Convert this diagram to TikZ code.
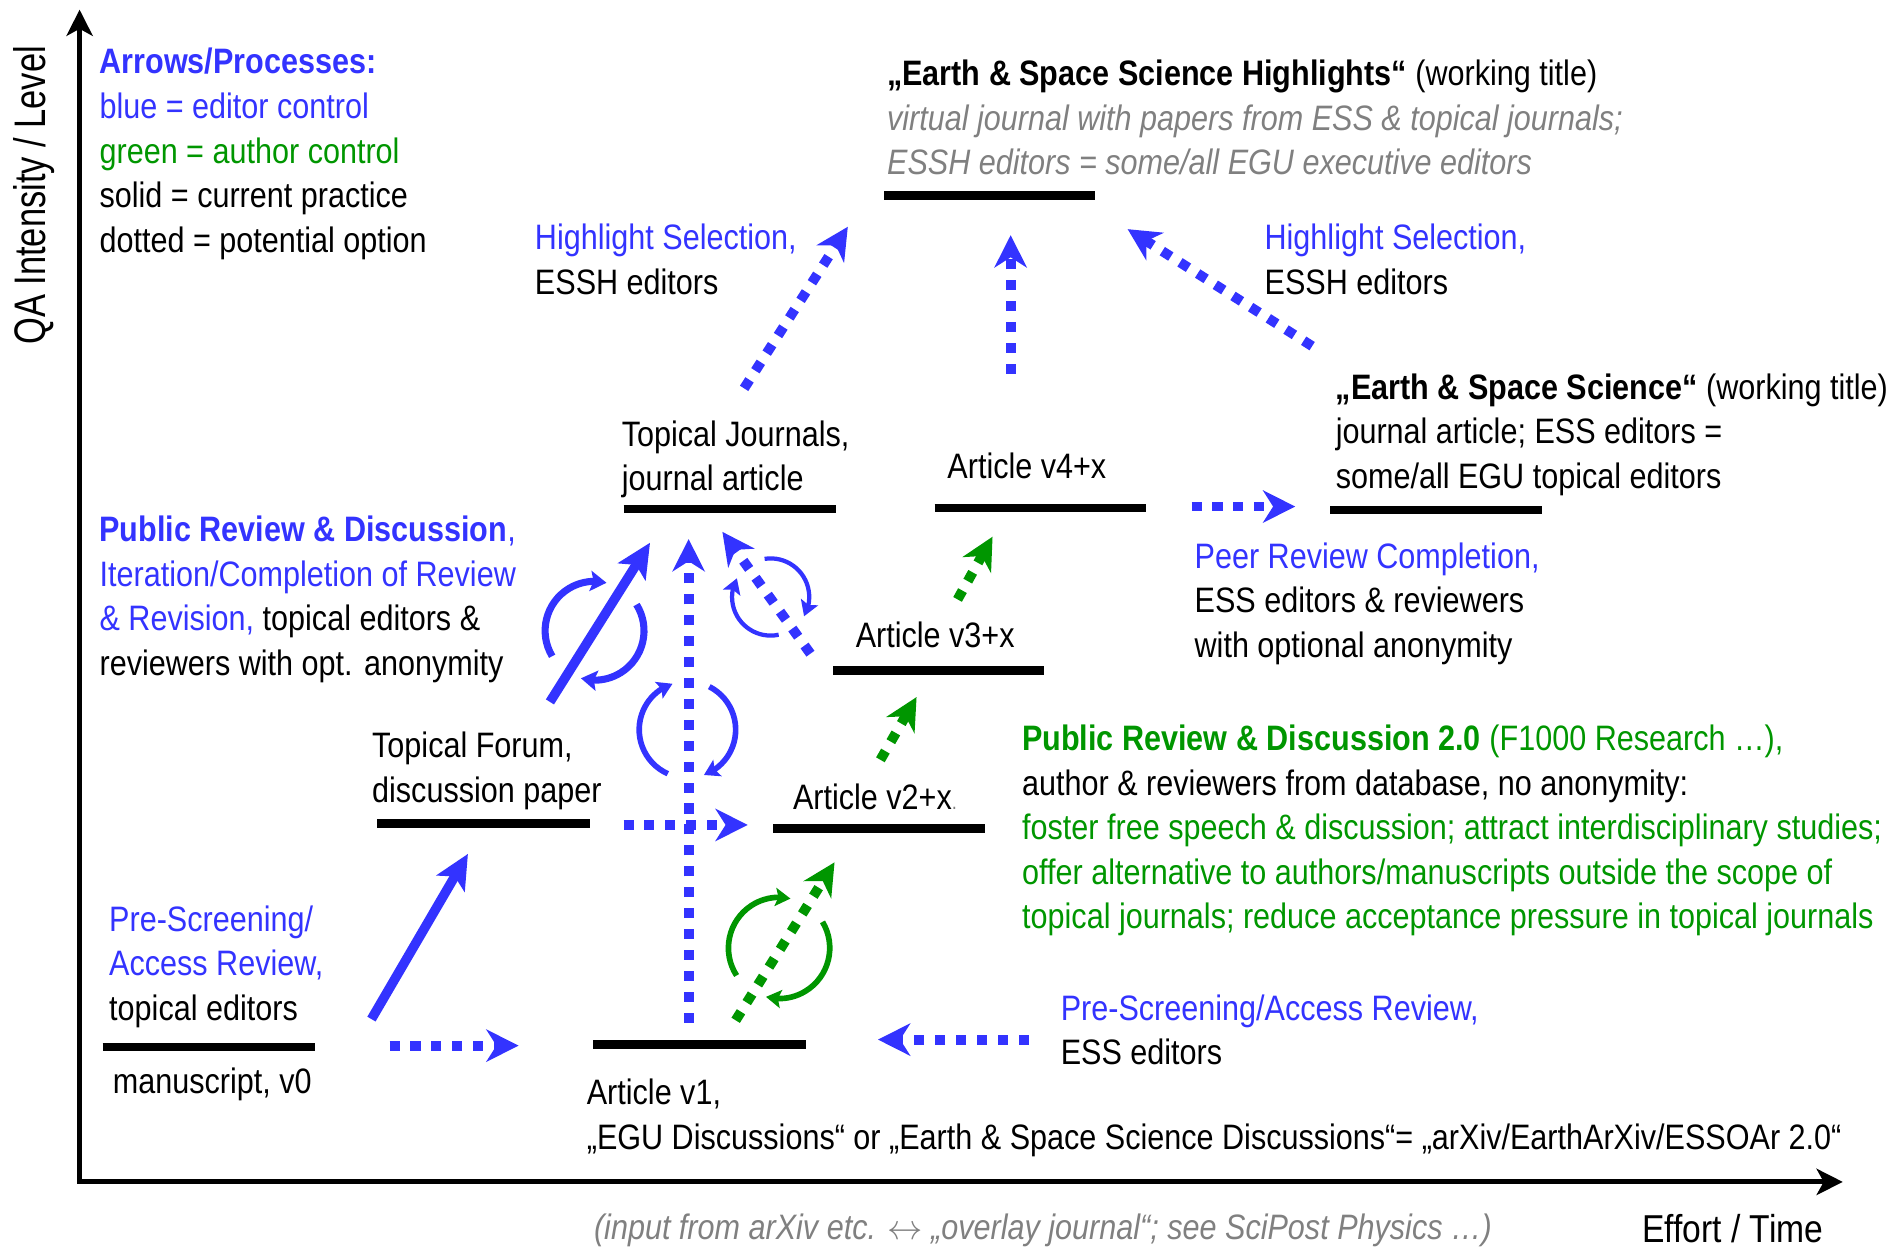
\documentclass[tikz,border=0pt]{standalone}
\usepackage{fontspec}
\setmainfont{Liberation Sans}[FakeStretch=0.865]
\newfontfamily\qafont{Liberation Sans}[FakeStretch=0.78]
\usetikzlibrary{arrows.meta,calc,bending}
\definecolor{edblue}{RGB}{51,51,255}
\definecolor{augreen}{RGB}{0,150,0}
\definecolor{txtgray}{RGB}{128,128,128}
\begin{document}
\begin{tikzpicture}[x=0.012cm,y=-0.012cm,
  txt/.style={inner sep=0pt, anchor=base west, align=left, font=\fontsize{10}{12.6}\selectfont},
  bar/.style={line width=2.4pt, line cap=butt},
  axis/.style={line width=1.4pt, {Stealth[length=0.26cm,width=0.26cm,inset=0.07cm]}-{Stealth[length=0.26cm,width=0.26cm,inset=0.07cm]}},
  dotarr/.style={line width=2.8pt, line cap=butt, dash pattern=on 0.1cm off 0.108cm, -{Stealth[length=0.32cm,width=0.32cm,inset=0.1cm]}},
  solarr/.style={line width=2.7pt, -{Stealth[length=0.34cm,width=0.32cm,inset=0.08cm]}},
  circarr/.style={line width=2pt, -{Stealth[length=0.16cm,width=0.2cm,inset=0.03cm]}},
  jagarr/.style={line width=1.6pt, -{Stealth[length=0.15cm,width=0.18cm,inset=0.03cm]}},
]
\useasboundingbox (0,0) rectangle (1568,1034);

% ---------- axes
\coordinate (Ytop) at (66,8);
\coordinate (O) at (66,980);
\coordinate (Xend) at (1528,980);
\draw[axis] (Ytop) -- (O) -- (Xend);
\node[inner sep=0pt, rotate=90, font=\qafont\fontsize{12.5}{14}\selectfont] (qa) at (28,162) {QA Intensity / Level};
\node[txt, font=\fontsize{11}{12}\selectfont] (effort) at (1361,1030) {Effort / Time};
\node[txt, font=\fontsize{10}{12}\selectfont\itshape, text=txtgray] (foot) at (492,1028)
  {(input from arXiv etc. \ensuremath{\leftrightarrow} „overlay journal“; see SciPost Physics …)};

% ---------- legend (base = last line)
\node[txt] (legend) at (82,209) {{\color{edblue}\textbf{Arrows/Processes:}}\\{\color{edblue}blue = editor control}\\{\color{augreen}green = author control}\\solid = current practice\\dotted = potential option};

% ---------- level bars
\draw[bar] (733,162) -- (908,162);
\draw[bar] (1103,423) -- (1279,423);
\draw[bar] (517,422) -- (693,422);
\draw[bar] (775,421) -- (950,421);
\draw[bar] (691,556) -- (866,556);
\draw[bar] (313,683) -- (489,683);
\draw[bar] (641,687) -- (817,687);
\draw[bar] (85,868) -- (261,868);
\draw[bar] (492,866) -- (668,866);

% ---------- texts (anchor on baseline of last line)
\node[txt] (essh) at (735,145) {\textbf{„Earth \& Space Science Highlights“} (working title)\\{\color{txtgray}\itshape virtual journal with papers from ESS \& topical journals;}\\{\color{txtgray}\itshape ESSH editors = some/all EGU executive editors}};
\node[txt] (hsL) at (443,244) {{\color{edblue}Highlight Selection,}\\ESSH editors};
\node[txt] (hsR) at (1048,244) {{\color{edblue}Highlight Selection,}\\ESSH editors};
\node[txt] (ess) at (1107,405) {\textbf{„Earth \& Space Science“} (working title)\\journal article; ESS editors =\\some/all EGU topical editors};
\node[txt] (tj) at (515,407) {Topical Journals,\\journal article};
\node[txt] (v4) at (785,397) {Article v4+x};
\node[txt] (prc) at (990,545) {{\color{edblue}Peer Review Completion,}\\ESS editors \& reviewers\\with optional anonymity};
\node[txt] (v3) at (709,537) {Article v3+x};
\node[txt] (prd) at (82,560) {{\color{edblue}\textbf{Public Review \& Discussion},}\\{\color{edblue}Iteration/Completion of Review}\\{\color{edblue}\& Revision,} topical editors \&\\reviewers with opt. anonymity};
\node[txt] (tf) at (308,665) {Topical Forum,\\discussion paper};
\node[txt] (v2) at (657,671) {Article v2+x{\color{txtgray}\fontsize{6}{6}\selectfont.}};
\node[txt] (prd2) at (847,770) {{\color{augreen}\textbf{Public Review \& Discussion 2.0} (F1000 Research …),}\\author \& reviewers from database, no anonymity:\\{\color{augreen}foster free speech \& discussion; attract interdisciplinary studies;}\\{\color{augreen}offer alternative to authors/manuscripts outside the scope of}\\{\color{augreen}topical journals; reduce acceptance pressure in topical journals}};
\node[txt] (psL) at (90,846) {{\color{edblue}Pre-Screening/}\\{\color{edblue}Access Review,}\\topical editors};
\node[txt] (v0) at (93,907) {manuscript, v0};
\node[txt] (psR) at (879,883) {{\color{edblue}Pre-Screening/Access Review,}\\ESS editors};
\node[txt] (v1) at (486,953) {Article v1,\\„EGU Discussions“ or „Earth \& Space Science Discussions“= „arXiv/EarthArXiv/ESSOAr 2.0“};

% ---------- circular arrows
\coordinate (cA) at (493,523);
\coordinate (cB) at (570,605);
\coordinate (cC) at (639,495);
\coordinate (cD) at (646,786);
\draw[circarr, edblue] ($(cA)+(149:41)$) arc[start angle=149, end angle=284, radius=41];
\draw[circarr, edblue] ($(cA)+(-32:41)$) arc[start angle=-32, end angle=106, radius=41];
\draw[jagarr, edblue] ($(cB)+(114:40)$) arc[start angle=114, end angle=252, radius=40];
\draw[jagarr, edblue] ($(cB)+(-63:40)$) arc[start angle=-63, end angle=70, radius=40];
\draw[jagarr, edblue, line width=1.2pt] ($(cC)+(78:32)$) arc[start angle=78, end angle=209, radius=32];
\draw[jagarr, edblue, line width=1.2pt] ($(cC)+(-99:32)$) arc[start angle=-99, end angle=30, radius=32];
\draw[jagarr, augreen] ($(cD)+(147:42)$) arc[start angle=147, end angle=283, radius=42];
\draw[jagarr, augreen] ($(cD)+(-31:42)$) arc[start angle=-31, end angle=105, radius=42];

% ---------- arrow end points
\coordinate (a1s) at (617,322);  \coordinate (a1e) at (703,188);
\coordinate (a2s) at (838,310);  \coordinate (a2e) at (838,195);
\coordinate (a3s) at (1088,287); \coordinate (a3e) at (935,190);
\coordinate (a4s) at (988,420);  \coordinate (a4e) at (1074,420);
\coordinate (a5s) at (794,497);  \coordinate (a5e) at (823,445);
\coordinate (a6s) at (730,630);  \coordinate (a6e) at (760,578);
\coordinate (a7s) at (517,684);  \coordinate (a7e) at (620,684);
\coordinate (a8s) at (456,582);  \coordinate (a8e) at (539,450);
\coordinate (a9s) at (672,542);  \coordinate (a9e) at (599,441);
\coordinate (a10s) at (571,848); \coordinate (a10e) at (571,447);
\coordinate (a11s) at (610,846); \coordinate (a11e) at (692,715);
\coordinate (a12s) at (308,845); \coordinate (a12e) at (388,708);
\coordinate (a13s) at (323,867); \coordinate (a13e) at (430,867);
\coordinate (a14s) at (853,862); \coordinate (a14e) at (728,862);

% ---------- arrows
\draw[dotarr, edblue] (a1s) -- (a1e);
\draw[dotarr, edblue] (a2s) -- (a2e);
\draw[dotarr, edblue] (a3s) -- (a3e);
\draw[dotarr, edblue] (a4s) -- (a4e);
\draw[dotarr, augreen] (a5s) -- (a5e);
\draw[dotarr, augreen] (a6s) -- (a6e);
\draw[dotarr, edblue] (a7s) -- (a7e);
\draw[solarr, edblue] (a8s) -- (a8e);
\draw[dotarr, edblue] (a9s) -- (a9e);
\draw[dotarr, edblue] (a10s) -- (a10e);
\draw[dotarr, augreen] (a11s) -- (a11e);
\draw[solarr, edblue] (a12s) -- (a12e);
\draw[dotarr, edblue] (a13s) -- (a13e);
\draw[dotarr, edblue] (a14s) -- (a14e);
\end{tikzpicture}
\end{document}
